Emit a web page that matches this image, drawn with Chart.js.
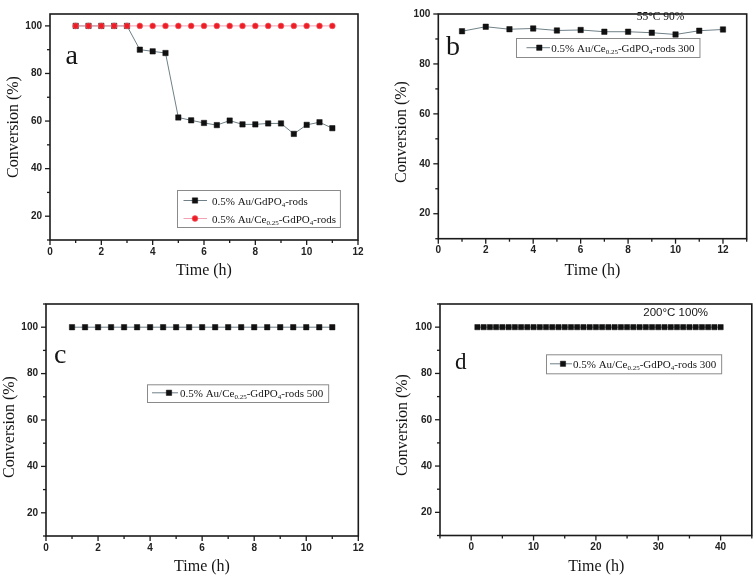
<!DOCTYPE html>
<html><head><meta charset="utf-8">
<script src="https://cdn.jsdelivr.net/npm/chart.js@4.4.0/dist/chart.umd.min.js"></script>
<style>
html,body{margin:0;padding:0;background:#fff;}
#wrap{position:relative;width:756px;height:577px;overflow:hidden;background:#fff;}
.pane{position:absolute;}
</style></head><body>
<div id="wrap">
  <div class="pane" style="left:0;top:0;width:378px;height:290px"><canvas id="ca"></canvas></div>
  <div class="pane" style="left:378px;top:0;width:378px;height:290px"><canvas id="cb"></canvas></div>
  <div class="pane" style="left:0;top:290px;width:378px;height:287px"><canvas id="cc"></canvas></div>
  <div class="pane" style="left:378px;top:290px;width:378px;height:287px"><canvas id="cd"></canvas></div>
</div>
<script>
// ---------------- data ----------------
const timeA = [1,1.5,2,2.5,3,3.5,4,4.5,5,5.5,6,6.5,7,7.5,8,8.5,9,9.5,10,10.5,11];
const convA_GdPO4 = [100,100,100,100,100,90.0,89.3,88.6,61.5,60.3,59.2,58.3,60.2,58.6,58.6,59.0,59.0,54.6,58.4,59.5,57.0];
const convA_CeGdPO4 = [100,100,100,100,100,100,100,100,100,100,100,100,100,100,100,100,100,100,100,100,100];

const timeB = [1,2,3,4,5,6,7,8,9,10,11,12];
const convB = [93.1,94.9,93.9,94.2,93.4,93.6,92.9,92.9,92.5,91.8,93.3,93.8];

const timeC = [1,1.5,2,2.5,3,3.5,4,4.5,5,5.5,6,6.5,7,7.5,8,8.5,9,9.5,10,10.5,11];
const convC = [100,100,100,100,100,100,100,100,100,100,100,100,100,100,100,100,100,100,100,100,100];

const timeD = [1,2,3,4,5,6,7,8,9,10,11,12,13,14,15,16,17,18,19,20,21,22,23,24,25,26,27,28,29,30,31,32,33,34,35,36,37,38,39,40];
const convD = [100,100,100,100,100,100,100,100,100,100,100,100,100,100,100,100,100,100,100,100,100,100,100,100,100,100,100,100,100,100,100,100,100,100,100,100,100,100,100,100];

const xTicks12 = [0,2,4,6,8,10,12];
const xMinor12 = [1,3,5,7,9,11];
const xMinor13 = [1,3,5,7,9,11,13];
const xTicksD = [0,10,20,30,40];
const xMinorD = [-5,5,15,25,35,45];
const yTicks = [20,40,60,80,100];
const yMinorA = [10,30,50,70,90];
const yMinorCD = [10,30,50,70,90,110];

// ---------------- styles ----------------
const GRAY_LINE = '#6f8088';
const blackSeries = (xs, ys, r) => ({
  data: xs.map((t,i)=>({x:t,y:ys[i]})),
  borderColor: GRAY_LINE, borderWidth: 1,
  pointStyle: 'rect', pointRadius: r, pointHoverRadius: r,
  pointBackgroundColor: '#111', pointBorderColor: '#111', pointBorderWidth: 0.5,
  order: 1
});
const redSeries = (xs, ys) => ({
  data: xs.map((t,i)=>({x:t,y:ys[i]})),
  borderColor: '#f2a2b4', borderWidth: 1,
  pointStyle: 'circle', pointRadius: 2.9, pointHoverRadius: 2.9,
  pointBackgroundColor: '#ee1d25', pointBorderColor: '#f0606a', pointBorderWidth: 0.6,
  order: 0
});

const SERIF = '"Liberation Serif", "Times New Roman", serif';
const SANS = '"Liberation Sans", Arial, sans-serif';

// ---------------- decoration plugin ----------------
const decor = {
  id: 'decor',
  afterDraw(chart, args, o) {
    const {ctx, chartArea: a, scales} = chart;
    ctx.save();
    // frame
    ctx.strokeStyle = '#1b1b1b';
    ctx.lineWidth = 1.6;
    ctx.strokeRect(a.left, a.top, a.right - a.left, a.bottom - a.top);
    // ticks
    ctx.lineWidth = 1.3;
    const tick = (scale, vals, len) => {
      vals.forEach(v => {
        const p = scale.getPixelForValue(v);
        ctx.beginPath();
        if (scale.isHorizontal()) { ctx.moveTo(p, a.bottom); ctx.lineTo(p, a.bottom + len); }
        else { ctx.moveTo(a.left, p); ctx.lineTo(a.left - len, p); }
        ctx.stroke();
      });
    };
    tick(scales.x, scales.x.ticks.map(t => t.value), 5);
    tick(scales.x, o.minorX, 3);
    tick(scales.y, scales.y.ticks.map(t => t.value), 5);
    tick(scales.y, o.minorY, 3);

    // axis titles
    ctx.fillStyle = '#151515';
    ctx.font = '16px ' + SERIF;
    ctx.textAlign = 'center';
    ctx.textBaseline = 'middle';
    ctx.fillText(o.xTitle.text, o.xTitle.x, o.xTitle.y);
    ctx.save();
    ctx.translate(o.yTitle.x, o.yTitle.y);
    ctx.rotate(-Math.PI / 2);
    ctx.fillText(o.yTitle.text, 0, 0);
    ctx.restore();

    // panel letter
    ctx.textAlign = 'left';
    ctx.textBaseline = 'alphabetic';
    ctx.font = o.letter.size + 'px ' + SERIF;
    ctx.fillText(o.letter.text, o.letter.x, o.letter.y);

    // note
    if (o.note) {
      ctx.font = o.note.font;
      ctx.fillText(o.note.text, o.note.x, o.note.y);
    }

    // legend
    const L = o.legend;
    const mainFont = '11px ' + SERIF;
    const subFont = '7px ' + SERIF;
    let maxEnd = 0;
    L.rows.forEach(r => {
      const ds = chart.data.datasets[r.ds];
      // line sample
      ctx.strokeStyle = ds.borderColor;
      ctx.lineWidth = 1;
      ctx.beginPath();
      ctx.moveTo(L.x + L.lineFrom, r.y);
      ctx.lineTo(L.x + L.lineTo, r.y);
      ctx.stroke();
      // marker
      const mx = L.x + L.marker;
      ctx.fillStyle = ds.pointBackgroundColor;
      ctx.strokeStyle = ds.pointBorderColor;
      ctx.lineWidth = ds.pointBorderWidth;
      ctx.beginPath();
      if (ds.pointStyle === 'rect') {
        const s = ds.pointRadius * Math.SQRT1_2;
        ctx.rect(mx - s, r.y - s, 2 * s, 2 * s);
      } else {
        ctx.arc(mx, r.y, ds.pointRadius, 0, Math.PI * 2);
      }
      ctx.fill();
      ctx.stroke();
      // text with subscripts
      ctx.fillStyle = '#151515';
      let tx = L.x + L.text;
      r.parts.forEach(p => {
        ctx.font = p.sub ? subFont : mainFont;
        ctx.fillText(p.t, tx, r.y + (p.sub ? 6.5 : 4));
        tx += ctx.measureText(p.t).width;
      });
      maxEnd = Math.max(maxEnd, tx);
    });
    // box
    ctx.strokeStyle = '#8a8a8a';
    ctx.lineWidth = 1;
    ctx.strokeRect(L.x + 0.5, L.y + 0.5, (maxEnd + L.padRight) - L.x, L.h);
    ctx.restore();
  }
};

const tickFont = {family: SANS, size: 10, weight: 'bold'};

function makeChart(id, o) {
  return new Chart(document.getElementById(id), {
    type: 'line',
    data: { datasets: o.datasets },
    options: {
      responsive: true, maintainAspectRatio: false, animation: false,
      events: [],
      layout: { padding: o.pad },
      plugins: { legend: {display: false}, tooltip: {enabled: false}, decor: o.decor },
      scales: {
        x: {
          type: 'linear', min: o.xRange[0], max: o.xRange[1],
          afterBuildTicks: s => { s.ticks = o.xTicks.map(v => ({value: v})); },
          afterFit: s => { s.height = o.xH; },
          grid: {display: false, drawTicks: false}, border: {display: false},
          ticks: {font: tickFont, color: '#222', padding: 6, maxRotation: 0, autoSkip: false}
        },
        y: {
          type: 'linear', min: o.yRange[0], max: o.yRange[1],
          afterBuildTicks: s => { s.ticks = o.yTicks.map(v => ({value: v})); },
          afterFit: s => { s.width = o.yW; },
          grid: {display: false, drawTicks: false}, border: {display: false},
          ticks: {font: tickFont, color: '#222', padding: 8, autoSkip: false}
        }
      }
    },
    plugins: [decor]
  });
}

const legendText300 = [{t:'0.5% Au/Ce'},{t:'0.25',sub:true},{t:'-GdPO'},{t:'4',sub:true},{t:'-rods 300'}];

// Panel a
makeChart('ca', {
  datasets: [blackSeries(timeA, convA_GdPO4, 3.8), redSeries(timeA, convA_CeGdPO4)],
  pad: {left: 0, top: 8.5, right: 20, bottom: 0},
  xRange: [0, 12], yRange: [10, 105], xTicks: xTicks12, yTicks: yTicks, xH: 50, yW: 50,
  decor: {
    minorX: xMinor12, minorY: yMinorA,
    xTitle: {text: 'Time (h)', x: 204, y: 271},
    yTitle: {text: 'Conversion (%)', x: 13.5, y: 127},
    letter: {text: 'a', x: 65.5, y: 63.5, size: 28},
    legend: {x: 177, y: 190, h: 37, lineFrom: 6.5, lineTo: 30, marker: 18, text: 35, padRight: 4,
      rows: [
        {ds: 0, y: 200.5, parts: [{t:'0.5% Au/GdPO'},{t:'4',sub:true},{t:'-rods'}]},
        {ds: 1, y: 218.5, parts: [{t:'0.5% Au/Ce'},{t:'0.25',sub:true},{t:'-GdPO'},{t:'4',sub:true},{t:'-rods'}]}
      ]}
  }
});

// Panel b
makeChart('cb', {
  datasets: [blackSeries(timeB, convB, 3.8)],
  pad: {left: 0, top: 5.5, right: 9.3, bottom: 0},
  xRange: [0, 13], yRange: [10, 100], xTicks: xTicks12, yTicks: yTicks, xH: 51.3, yW: 60.3,
  decor: {
    minorX: xMinor13, minorY: yMinorA,
    xTitle: {text: 'Time (h)', x: 214.5, y: 270.5},
    yTitle: {text: 'Conversion (%)', x: 23.7, y: 132},
    letter: {text: 'b', x: 68, y: 55, size: 28},
    note: {text: '55°C 90%', x: 258.7, y: 20, font: '11.5px ' + SERIF},
    legend: {x: 138, y: 38, h: 19, lineFrom: 10.5, lineTo: 34, marker: 23.3, text: 35.3, padRight: 5,
      rows: [{ds: 0, y: 47.7, parts: legendText300}]}
  }
});

// Panel c
makeChart('cc', {
  datasets: [blackSeries(timeC, convC, 3.8)],
  pad: {left: 0, top: 10.5, right: 19.7, bottom: 0},
  xRange: [0, 12], yRange: [10, 110], xTicks: xTicks12, yTicks: yTicks, xH: 41, yW: 46,
  decor: {
    minorX: xMinor12, minorY: yMinorCD,
    xTitle: {text: 'Time (h)', x: 202, y: 277},
    yTitle: {text: 'Conversion (%)', x: 9.5, y: 137},
    letter: {text: 'c', x: 54, y: 72.5, size: 28},
    legend: {x: 147, y: 94.3, h: 17.7, lineFrom: 5, lineTo: 31, marker: 22, text: 33, padRight: 5,
      rows: [{ds: 0, y: 102.8, parts: [{t:'0.5% Au/Ce'},{t:'0.25',sub:true},{t:'-GdPO'},{t:'4',sub:true},{t:'-rods 500'}]}]}
  }
});

// Panel d
makeChart('cd', {
  datasets: [blackSeries(timeD, convD, 3.7)],
  pad: {left: 0, top: 9, right: 3.7, bottom: 0},
  xRange: [-5, 45], yRange: [10, 110], xTicks: xTicksD, yTicks: yTicks, xH: 41.5, yW: 62,
  decor: {
    minorX: xMinorD, minorY: yMinorCD,
    xTitle: {text: 'Time (h)', x: 218.3, y: 276.5},
    yTitle: {text: 'Conversion (%)', x: 24.5, y: 135},
    letter: {text: 'd', x: 77, y: 79.3, size: 23},
    note: {text: '200°C 100%', x: 265.3, y: 26, font: '11.5px ' + SANS},
    legend: {x: 168, y: 64.3, h: 19, lineFrom: 4, lineTo: 26, marker: 17, text: 27, padRight: 5,
      rows: [{ds: 0, y: 73.8, parts: legendText300}]}
  }
});
</script>
</body></html>
